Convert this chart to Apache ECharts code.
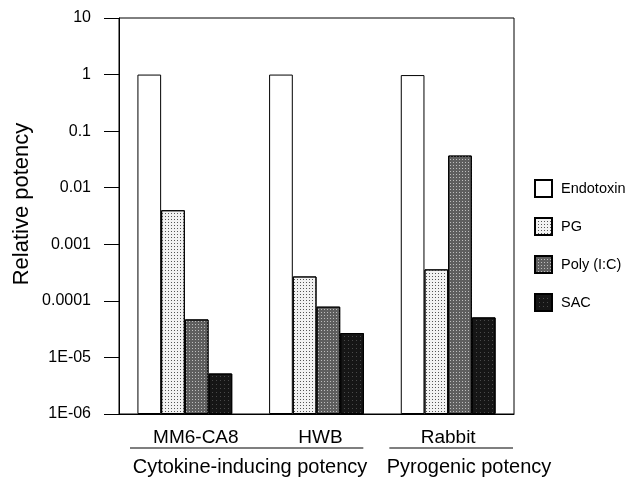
<!DOCTYPE html>
<html>
<head>
<meta charset="utf-8">
<script src="https://cdn.jsdelivr.net/npm/echarts@6/dist/echarts.min.js"></script>
<style>html,body{margin:0;padding:0;background:#fff}#c{width:630px;height:480px}</style>
</head>
<body>
<div id="c"></div>
<script>
const categories = ['MM6-CA8', 'HWB', 'Rabbit'];
const seriesNames = ['Endotoxin', 'PG', 'Poly (I:C)', 'SAC'];
const endotoxin = [1, 1, 0.98];
const pg = [0.004, 0.00027, 0.00036];
const polyIC = [0.000047, 0.000079, 0.037];
const sac = [0.0000052, 0.000027, 0.000051];
const yTickLabels = ['1E-06', '1E-05', '0.0001', '0.001', '0.01', '0.1', '1', '10'];
const groupLabels = ['Cytokine-inducing potency', 'Pyrogenic potency'];
const yAxisTitle = 'Relative potency';

const FONT = '"Liberation Sans", Arial, sans-serif';
const G = {left: 119, top: 18, right: 116, bottom: 66};
const W = 630, H = 480;
const plotW = W - G.left - G.right;
const band = plotW / categories.length;
const labelShift = [22, 8, 0];

const styles = [
  {color: '#ffffff', decal: null},
  {color: '#f2f2f2', decal: {symbol: 'rect', symbolSize: 1, color: '#555', dashArrayX: [1, 2], dashArrayY: [1, 2], rotation: 0}},
  {color: '#5e5e5e', decal: {symbol: 'rect', symbolSize: 1, color: '#bdbdbd', dashArrayX: [1, 2], dashArrayY: [1, 2], rotation: 0}},
  {color: '#161616', decal: {symbol: 'rect', symbolSize: 1, color: '#4a4a4a', dashArrayX: [1, 3], dashArrayY: [1, 3], rotation: 0}}
];
const dataArrays = [endotoxin, pg, polyIC, sac];

const series = seriesNames.map((n, i) => ({
  name: n,
  type: 'bar',
  data: dataArrays[i],
  barGap: '0%',
  barCategoryGap: '28%',
  itemStyle: Object.assign({color: styles[i].color, borderColor: '#000', borderWidth: 1}, styles[i].decal ? {decal: styles[i].decal} : {})
}));

const chart = echarts.init(document.getElementById('c'), null, {renderer: 'canvas'});

const lineY = 448;
const graphics = [
  {type: 'line', shape: {x1: G.left + 11, y1: lineY, x2: G.left + 2 * band - 19, y2: lineY}, style: {stroke: '#000', lineWidth: 1.2}},
  {type: 'line', shape: {x1: G.left + 2 * band + 7, y1: lineY, x2: G.left + 3 * band - 1, y2: lineY}, style: {stroke: '#000', lineWidth: 1.2}},
  {type: 'text', x: 250, y: 467, style: {text: groupLabels[0], font: '20px ' + FONT, fill: '#000', textAlign: 'center', textVerticalAlign: 'middle'}},
  {type: 'text', x: 469, y: 467, style: {text: groupLabels[1], font: '20px ' + FONT, fill: '#000', textAlign: 'center', textVerticalAlign: 'middle'}},
  {type: 'text', x: 22, y: 204, rotation: Math.PI / 2, style: {text: yAxisTitle, font: '22px ' + FONT, fill: '#000', textAlign: 'center', textVerticalAlign: 'middle'}}
];

chart.setOption({
  animation: false,
  backgroundColor: '#fff',
  grid: {left: G.left, top: G.top, right: G.right, bottom: G.bottom, show: true, borderColor: '#000', borderWidth: 1, containLabel: false, outerBoundsMode: 'none'},
  legend: {
    orient: 'vertical', left: 529, top: 174,
    icon: 'rect',
    itemWidth: 17, itemHeight: 17, itemGap: 19,
    textStyle: {fontFamily: FONT, fontSize: 14.5, color: '#000', padding: [0, 0, 0, 4]},
    data: seriesNames
  },
  xAxis: {
    type: 'category',
    data: categories.map((c, i) => ({value: c, textStyle: {padding: [0, 0, 0, labelShift[i]]}})),
    axisLine: {show: true, lineStyle: {color: '#000', width: 1}},
    axisTick: {show: false},
    axisLabel: {color: '#000', fontFamily: FONT, fontSize: 19, margin: 14}
  },
  yAxis: {
    type: 'log', logBase: 10, min: 1e-6, max: 10, startValue: 1e-6,
    axisLine: {show: true, lineStyle: {color: '#000', width: 1}},
    axisTick: {show: true, inside: false, length: 15, lineStyle: {color: '#000'}},
    splitLine: {show: false},
    axisLabel: {
      color: '#000', fontFamily: FONT, fontSize: 16, margin: 28,
      formatter: v => {
        const k = Math.round(Math.log10(v)) + 6;
        return yTickLabels[k] !== undefined ? yTickLabels[k] : '';
      }
    }
  },
  series: series,
  graphic: graphics
});
</script>
</body>
</html>
